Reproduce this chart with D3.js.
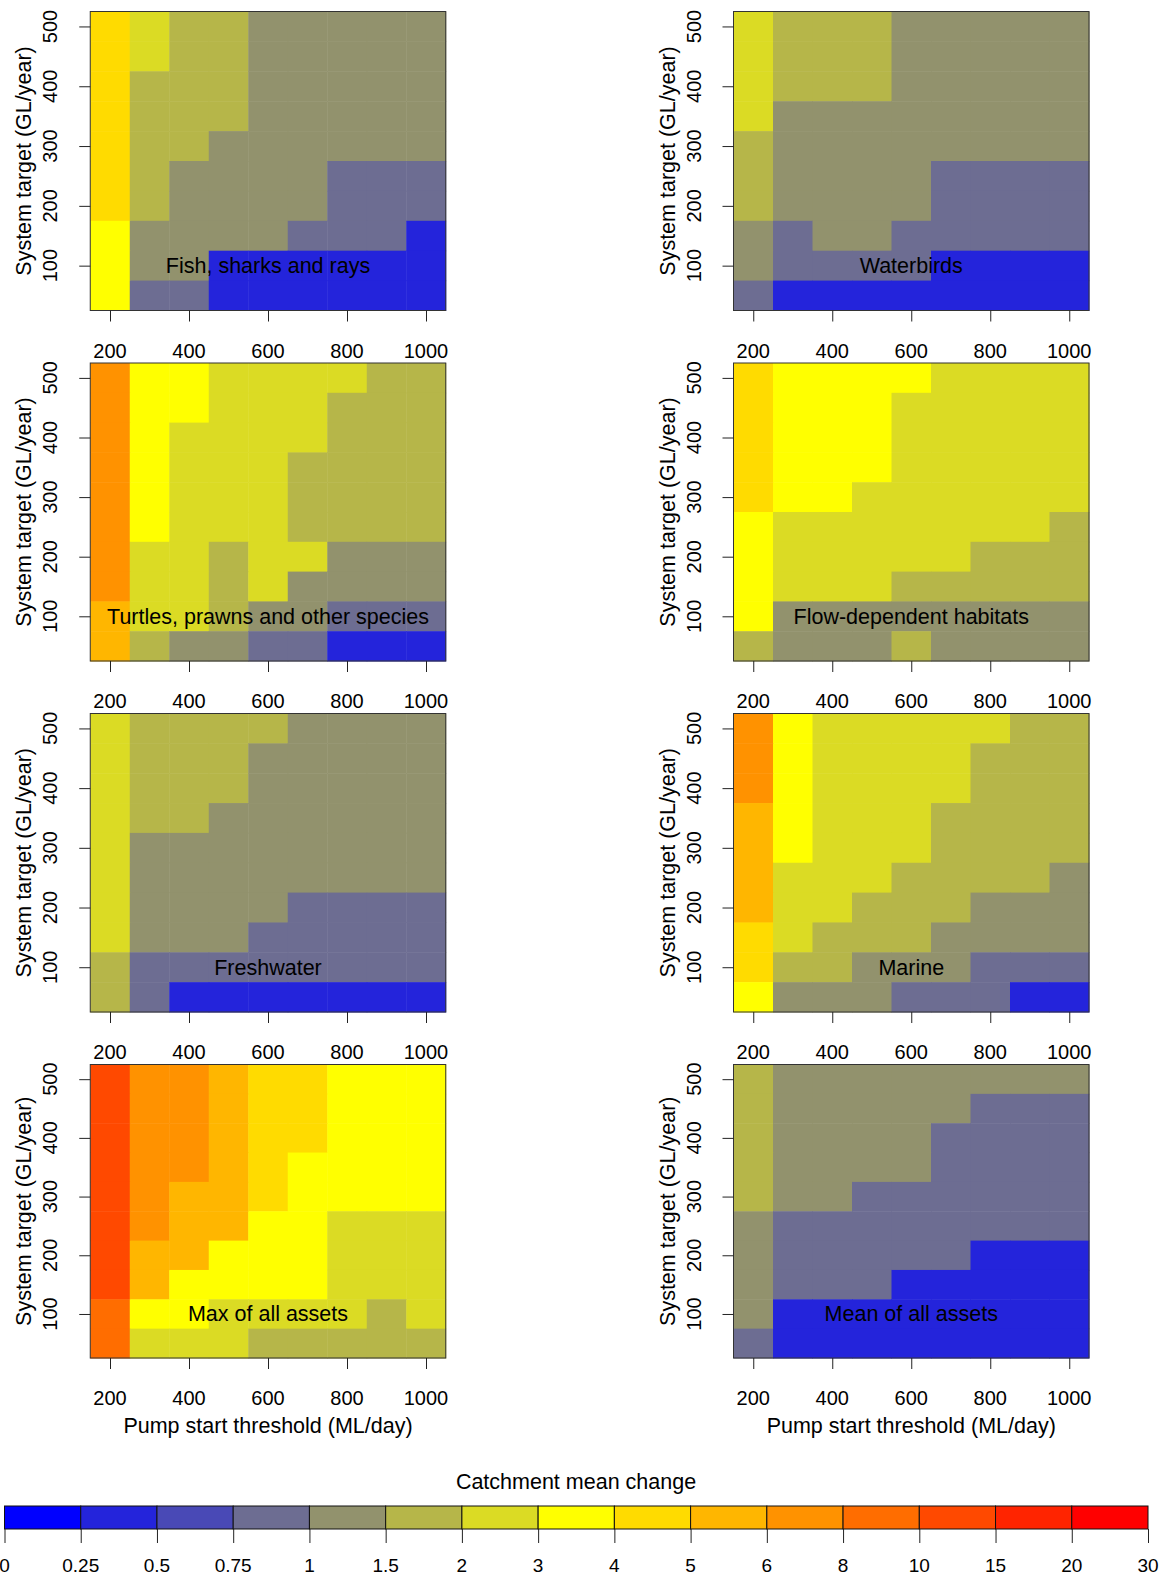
<!DOCTYPE html>
<html>
<head>
<meta charset="utf-8">
<script src="https://cdn.jsdelivr.net/npm/d3@7"></script>
<style>
  html, body { margin: 0; padding: 0; background: #ffffff; }
  svg { display: block; }
  text { font-family: "Liberation Sans", Arial, Helvetica, sans-serif; fill: #000; }
</style>
</head>
<body>
<svg id="chart" width="1166" height="1576"></svg>
<script>
// ---------------- data ----------------
const pumpThresholds = [200, 300, 400, 500, 600, 700, 800, 900, 1000];          // ML/day (columns)
const systemTargets  = [500, 450, 400, 350, 300, 250, 200, 150, 100, 50];       // GL/year (rows, top to bottom)
const xTickValues = [200, 400, 600, 800, 1000];
const yTickValues = [100, 200, 300, 400, 500];

const colorBreaks = [0, 0.25, 0.5, 0.75, 1, 1.5, 2, 3, 4, 5, 6, 8, 10, 15, 20, 30];
const colorBreakLabels = ["0", "0.25", "0.5", "0.75", "1", "1.5", "2", "3", "4", "5", "6", "8", "10", "15", "20", "30"];
const binColors = ["#0000FF", "#2424DB", "#4949B6", "#6D6D92", "#92926D", "#B6B649", "#DBDB24", "#FFFF00",
                   "#FFDB00", "#FFB600", "#FF9200", "#FF6D00", "#FF4900", "#FF2400", "#FF0000"];

// catchment mean change, rows = systemTargets (500 -> 50), cols = pumpThresholds (200 -> 1000)
const fishSharksRays = [
  [4.5, 2.5, 1.7, 1.7, 1.2, 1.2, 1.2, 1.2, 1.2],
  [4.5, 2.5, 1.7, 1.7, 1.2, 1.2, 1.2, 1.2, 1.2],
  [4.5, 1.7, 1.7, 1.7, 1.2, 1.2, 1.2, 1.2, 1.2],
  [4.5, 1.7, 1.7, 1.7, 1.2, 1.2, 1.2, 1.2, 1.2],
  [4.5, 1.7, 1.7, 1.2, 1.2, 1.2, 1.2, 1.2, 1.2],
  [4.5, 1.7, 1.2, 1.2, 1.2, 1.2, 0.9, 0.9, 0.9],
  [4.5, 1.7, 1.2, 1.2, 1.2, 1.2, 0.9, 0.9, 0.9],
  [3.5, 1.2, 1.2, 1.2, 1.2, 0.9, 0.9, 0.9, 0.4],
  [3.5, 1.2, 1.2, 0.4, 0.4, 0.4, 0.4, 0.4, 0.4],
  [3.5, 0.9, 0.9, 0.4, 0.4, 0.4, 0.4, 0.4, 0.4]
];
const waterbirds = [
  [2.5, 1.7, 1.7, 1.7, 1.2, 1.2, 1.2, 1.2, 1.2],
  [2.5, 1.7, 1.7, 1.7, 1.2, 1.2, 1.2, 1.2, 1.2],
  [2.5, 1.7, 1.7, 1.7, 1.2, 1.2, 1.2, 1.2, 1.2],
  [2.5, 1.2, 1.2, 1.2, 1.2, 1.2, 1.2, 1.2, 1.2],
  [1.7, 1.2, 1.2, 1.2, 1.2, 1.2, 1.2, 1.2, 1.2],
  [1.7, 1.2, 1.2, 1.2, 1.2, 0.9, 0.9, 0.9, 0.9],
  [1.7, 1.2, 1.2, 1.2, 1.2, 0.9, 0.9, 0.9, 0.9],
  [1.2, 0.9, 1.2, 1.2, 0.9, 0.9, 0.9, 0.9, 0.9],
  [1.2, 0.9, 0.9, 0.9, 0.9, 0.4, 0.4, 0.4, 0.4],
  [0.9, 0.4, 0.4, 0.4, 0.4, 0.4, 0.4, 0.4, 0.4]
];
const turtlesPrawns = [
  [7, 3.5, 3.5, 2.5, 2.5, 2.5, 2.5, 1.7, 1.7],
  [7, 3.5, 3.5, 2.5, 2.5, 2.5, 1.7, 1.7, 1.7],
  [7, 3.5, 2.5, 2.5, 2.5, 2.5, 1.7, 1.7, 1.7],
  [7, 3.5, 2.5, 2.5, 2.5, 1.7, 1.7, 1.7, 1.7],
  [7, 3.5, 2.5, 2.5, 2.5, 1.7, 1.7, 1.7, 1.7],
  [7, 3.5, 2.5, 2.5, 2.5, 1.7, 1.7, 1.7, 1.7],
  [7, 2.5, 2.5, 1.7, 2.5, 2.5, 1.2, 1.2, 1.2],
  [7, 2.5, 2.5, 1.7, 2.5, 1.2, 1.2, 1.2, 1.2],
  [5.5, 2.5, 2.5, 1.7, 1.2, 1.2, 0.9, 0.9, 0.9],
  [5.5, 1.7, 1.2, 1.2, 0.9, 0.9, 0.4, 0.4, 0.4]
];
const flowHabitats = [
  [4.5, 3.5, 3.5, 3.5, 3.5, 2.5, 2.5, 2.5, 2.5],
  [4.5, 3.5, 3.5, 3.5, 2.5, 2.5, 2.5, 2.5, 2.5],
  [4.5, 3.5, 3.5, 3.5, 2.5, 2.5, 2.5, 2.5, 2.5],
  [4.5, 3.5, 3.5, 3.5, 2.5, 2.5, 2.5, 2.5, 2.5],
  [4.5, 3.5, 3.5, 2.5, 2.5, 2.5, 2.5, 2.5, 2.5],
  [3.5, 2.5, 2.5, 2.5, 2.5, 2.5, 2.5, 2.5, 1.7],
  [3.5, 2.5, 2.5, 2.5, 2.5, 2.5, 1.7, 1.7, 1.7],
  [3.5, 2.5, 2.5, 2.5, 1.7, 1.7, 1.7, 1.7, 1.7],
  [3.5, 1.2, 1.2, 1.2, 1.2, 1.2, 1.2, 1.2, 1.2],
  [1.7, 1.2, 1.2, 1.2, 1.7, 1.2, 1.2, 1.2, 1.2]
];
const freshwater = [
  [2.5, 1.7, 1.7, 1.7, 1.7, 1.2, 1.2, 1.2, 1.2],
  [2.5, 1.7, 1.7, 1.7, 1.2, 1.2, 1.2, 1.2, 1.2],
  [2.5, 1.7, 1.7, 1.7, 1.2, 1.2, 1.2, 1.2, 1.2],
  [2.5, 1.7, 1.7, 1.2, 1.2, 1.2, 1.2, 1.2, 1.2],
  [2.5, 1.2, 1.2, 1.2, 1.2, 1.2, 1.2, 1.2, 1.2],
  [2.5, 1.2, 1.2, 1.2, 1.2, 1.2, 1.2, 1.2, 1.2],
  [2.5, 1.2, 1.2, 1.2, 1.2, 0.9, 0.9, 0.9, 0.9],
  [2.5, 1.2, 1.2, 1.2, 0.9, 0.9, 0.9, 0.9, 0.9],
  [1.7, 0.9, 0.9, 0.9, 0.9, 0.9, 0.9, 0.9, 0.9],
  [1.7, 0.9, 0.4, 0.4, 0.4, 0.4, 0.4, 0.4, 0.4]
];
const marine = [
  [7, 3.5, 2.5, 2.5, 2.5, 2.5, 2.5, 1.7, 1.7],
  [7, 3.5, 2.5, 2.5, 2.5, 2.5, 1.7, 1.7, 1.7],
  [7, 3.5, 2.5, 2.5, 2.5, 2.5, 1.7, 1.7, 1.7],
  [5.5, 3.5, 2.5, 2.5, 2.5, 1.7, 1.7, 1.7, 1.7],
  [5.5, 3.5, 2.5, 2.5, 2.5, 1.7, 1.7, 1.7, 1.7],
  [5.5, 2.5, 2.5, 2.5, 1.7, 1.7, 1.7, 1.7, 1.2],
  [5.5, 2.5, 2.5, 1.7, 1.7, 1.7, 1.2, 1.2, 1.2],
  [4.5, 2.5, 1.7, 1.7, 1.7, 1.2, 1.2, 1.2, 1.2],
  [4.5, 1.7, 1.7, 1.2, 1.2, 1.2, 0.9, 0.9, 0.9],
  [3.5, 1.2, 1.2, 1.2, 0.9, 0.9, 0.9, 0.4, 0.4]
];
const maxAllAssets = [
  [12, 7, 7, 5.5, 4.5, 4.5, 3.5, 3.5, 3.5],
  [12, 7, 7, 5.5, 4.5, 4.5, 3.5, 3.5, 3.5],
  [12, 7, 7, 5.5, 4.5, 4.5, 3.5, 3.5, 3.5],
  [12, 7, 7, 5.5, 4.5, 3.5, 3.5, 3.5, 3.5],
  [12, 7, 5.5, 5.5, 4.5, 3.5, 3.5, 3.5, 3.5],
  [12, 7, 5.5, 5.5, 3.5, 3.5, 2.5, 2.5, 2.5],
  [12, 5.5, 5.5, 3.5, 3.5, 3.5, 2.5, 2.5, 2.5],
  [12, 5.5, 3.5, 3.5, 3.5, 3.5, 2.5, 2.5, 2.5],
  [9, 3.5, 3.5, 2.5, 2.5, 2.5, 2.5, 1.7, 2.5],
  [9, 2.5, 2.5, 2.5, 1.7, 1.7, 1.7, 1.7, 1.7]
];
const meanAllAssets = [
  [1.7, 1.2, 1.2, 1.2, 1.2, 1.2, 1.2, 1.2, 1.2],
  [1.7, 1.2, 1.2, 1.2, 1.2, 1.2, 0.9, 0.9, 0.9],
  [1.7, 1.2, 1.2, 1.2, 1.2, 0.9, 0.9, 0.9, 0.9],
  [1.7, 1.2, 1.2, 1.2, 1.2, 0.9, 0.9, 0.9, 0.9],
  [1.7, 1.2, 1.2, 0.9, 0.9, 0.9, 0.9, 0.9, 0.9],
  [1.2, 0.9, 0.9, 0.9, 0.9, 0.9, 0.9, 0.9, 0.9],
  [1.2, 0.9, 0.9, 0.9, 0.9, 0.9, 0.4, 0.4, 0.4],
  [1.2, 0.9, 0.9, 0.9, 0.4, 0.4, 0.4, 0.4, 0.4],
  [1.2, 0.4, 0.4, 0.4, 0.4, 0.4, 0.4, 0.4, 0.4],
  [0.9, 0.4, 0.4, 0.4, 0.4, 0.4, 0.4, 0.4, 0.4]
];

const panelTitles = ["Fish, sharks and rays", "Waterbirds", "Turtles, prawns and other species",
  "Flow-dependent habitats", "Freshwater", "Marine", "Max of all assets", "Mean of all assets"];
const panelValues = [fishSharksRays, waterbirds, turtlesPrawns, flowHabitats, freshwater, marine, maxAllAssets, meanAllAssets];

// ---------------- layout ----------------
const colX = [[90.25, 445.75], [733.5, 1089]];
const rowY = [[11.5, 310.5], [363, 661], [713.5, 1012], [1064.5, 1358]];

const svg = d3.select("#chart");
const color = d3.scaleThreshold().domain(colorBreaks.slice(1, -1)).range(binColors);

panelValues.forEach((values, p) => {
  const col = p % 2, row = Math.floor(p / 2);
  const [x0, x1] = colX[col];
  const [y0, y1] = rowY[row];
  const x = d3.scaleLinear().domain([150, 1050]).range([x0, x1]);
  const y = d3.scaleLinear().domain([25, 525]).range([y1, y0]);
  const g = svg.append("g");

  const cells = [];
  systemTargets.forEach((t, i) => pumpThresholds.forEach((q, j) => cells.push({q, t, v: values[i][j]})));

  g.selectAll("rect.cell").data(cells).enter().append("rect")
    .attr("class", "cell")
    .attr("x", d => x(d.q - 50))
    .attr("y", d => y(d.t + 25))
    .attr("width", d => x(d.q + 50) - x(d.q - 50) + 0.5)
    .attr("height", d => y(d.t - 25) - y(d.t + 25) + 0.5)
    .attr("fill", d => color(d.v));

  // box
  g.append("rect").attr("x", x0).attr("y", y0).attr("width", x1 - x0).attr("height", y1 - y0)
    .attr("fill", "none").attr("stroke", "#333").attr("stroke-width", 1);

  // x axis
  const xAxis = d3.axisBottom(x).tickValues(xTickValues).tickSize(11).tickPadding(0).tickFormat(() => "");
  const xg = g.append("g").attr("transform", `translate(0,${y1})`).call(xAxis);
  xg.select(".domain").remove();
  xg.selectAll("line").attr("stroke", "#222");
  g.selectAll("text.xtick").data(xTickValues).enter().append("text")
    .attr("class", "xtick").attr("x", d => x(d)).attr("y", y1 + 47)
    .attr("text-anchor", "middle").style("font-size", "20px").text(d => d);

  // y axis
  const yAxis = d3.axisLeft(y).tickValues(yTickValues).tickSize(11).tickFormat(() => "");
  const yg = g.append("g").attr("transform", `translate(${x0},0)`).call(yAxis);
  yg.select(".domain").remove();
  yg.selectAll("line").attr("stroke", "#222");
  g.selectAll("text.ytick").data(yTickValues).enter().append("text")
    .attr("class", "ytick")
    .attr("transform", d => `translate(${x0 - 33},${y(d)}) rotate(-90)`)
    .attr("text-anchor", "middle").style("font-size", "20px").text(d => d);

  // y title
  g.append("text")
    .attr("transform", `translate(${x0 - 59},${(y0 + y1) / 2}) rotate(-90)`)
    .attr("text-anchor", "middle").style("font-size", "21.5px").text("System target (GL/year)");

  // panel label
  g.append("text").attr("x", x(600)).attr("y", y(100) + 7.5)
    .attr("text-anchor", "middle").style("font-size", "21.5px").text(panelTitles[p]);

  // x title on last row
  if (row === 3) {
    g.append("text").attr("x", (x0 + x1) / 2).attr("y", 1433)
      .attr("text-anchor", "middle").style("font-size", "21.5px").text("Pump start threshold (ML/day)");
  }
});

// ---------------- legend ----------------
const lx = d3.scaleLinear().domain([0, binColors.length]).range([4.5, 1148]);
const lg = svg.append("g");
const ly0 = 1506, ly1 = 1529;
lg.selectAll("rect.bin").data(binColors).enter().append("rect")
  .attr("class", "bin")
  .attr("x", (d, i) => lx(i)).attr("y", ly0)
  .attr("width", (d, i) => lx(i + 1) - lx(i)).attr("height", ly1 - ly0)
  .attr("fill", d => d).attr("stroke", "#111").attr("stroke-width", 1);
const lAxis = d3.axisBottom(lx).tickValues(d3.range(colorBreaks.length)).tickSize(14).tickFormat(() => "");
const lag = lg.append("g").attr("transform", `translate(0,${ly1})`).call(lAxis);
lag.select(".domain").remove();
lag.selectAll("line").attr("stroke", "#222");
lg.selectAll("text.ltick").data(colorBreakLabels).enter().append("text")
  .attr("class", "ltick").attr("x", (d, i) => lx(i)).attr("y", 1572)
  .attr("text-anchor", "middle").style("font-size", "19px").text(d => d);
lg.append("text").attr("x", 576).attr("y", 1489).attr("text-anchor", "middle")
  .style("font-size", "21.5px").text("Catchment mean change");
</script>
</body>
</html>
